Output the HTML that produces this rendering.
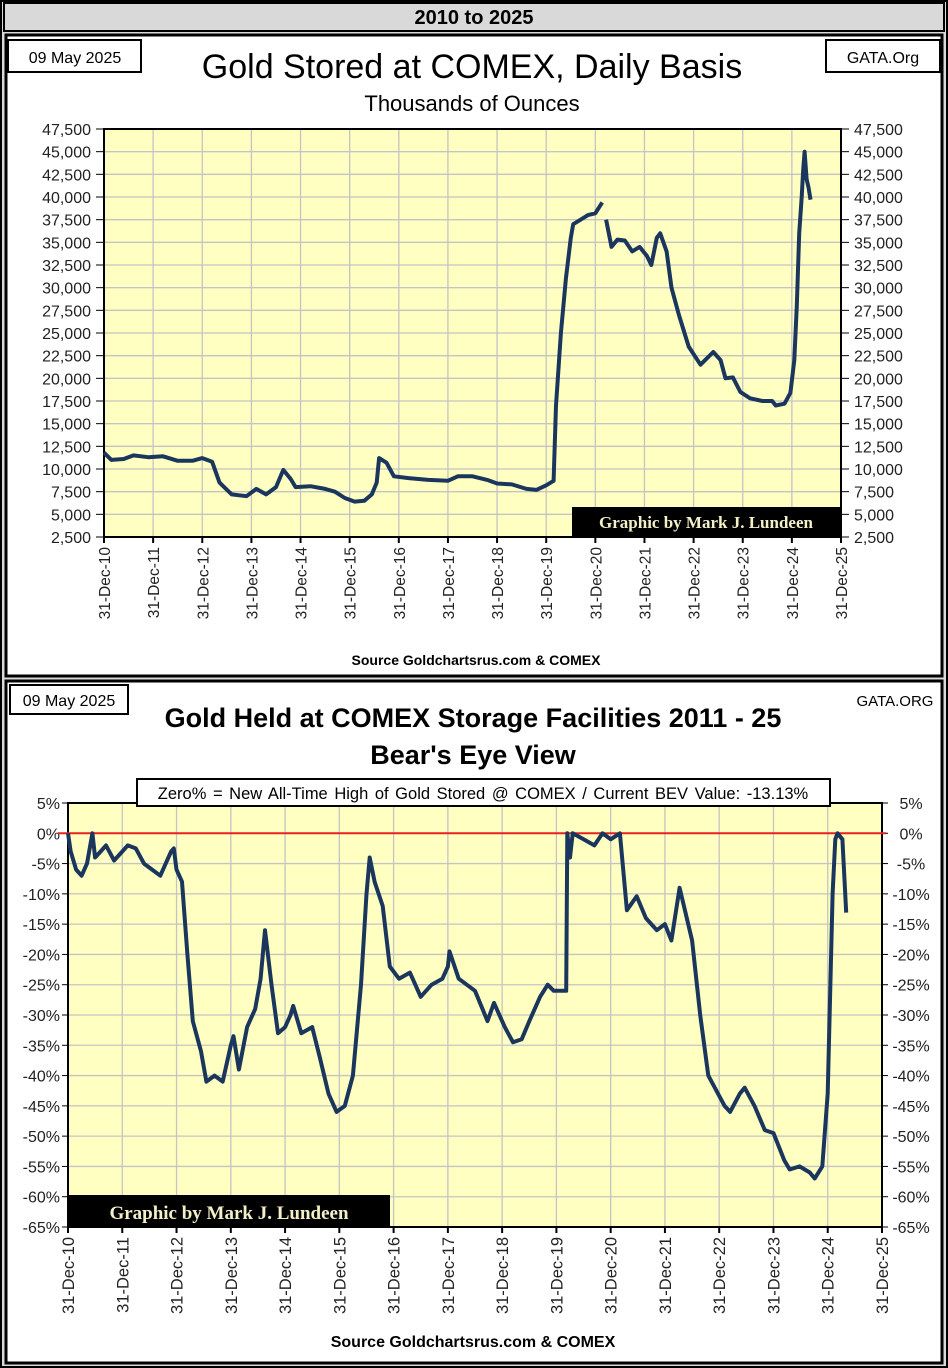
<!DOCTYPE html>
<html><head><meta charset="utf-8"><style>
body{margin:0;width:948px;height:1368px;background:#d9d9d9;font-family:"Liberation Sans",sans-serif;overflow:hidden}
svg{position:absolute;left:0;top:0}
</style></head><body>
<svg id="s" width="948" height="1368"></svg>
<script>
// Top chart data (years after 31-Dec-10, thousands of ounces)
const topYears=[0,0.15,0.4,0.6,0.9,1.2,1.5,1.8,2.0,2.2,2.35,2.6,2.9,3.1,3.3,3.5,3.65,3.8,3.9,4.2,4.5,4.7,4.9,5.1,5.3,5.45,5.55,5.6,5.75,5.9,6.2,6.6,7.0,7.2,7.5,7.8,8.0,8.3,8.6,8.8,9.0,9.15,9.2,9.3,9.4,9.5,9.55,9.7,9.85,10.0,10.14,10.22,10.33,10.45,10.6,10.75,10.9,11.05,11.14,11.25,11.32,11.45,11.55,11.7,11.9,12.14,12.4,12.55,12.65,12.8,12.95,13.15,13.4,13.6,13.67,13.85,13.97,14.05,14.1,14.15,14.2,14.23,14.26,14.3,14.34,14.38];
const topValues=[11800,11000,11100,11500,11300,11400,10900,10900,11200,10800,8500,7200,7000,7800,7200,8000,9900,8900,8000,8100,7800,7500,6800,6400,6500,7200,8500,11200,10700,9200,9000,8800,8700,9200,9200,8800,8400,8300,7800,7700,8200,8700,17000,25000,31000,35500,37000,37500,38000,38200,39400,37500,34500,35300,35200,34000,34500,33500,32500,35500,36000,34000,30000,27000,23500,21500,22900,22000,20000,20100,18500,17800,17500,17500,17000,17200,18400,22000,28000,36000,40000,43000,45000,42000,41000,39700];
const topTicks=[2500,5000,7500,10000,12500,15000,17500,20000,22500,25000,27500,30000,32500,35000,37500,40000,42500,45000,47500];
const xLabels=["31-Dec-10","31-Dec-11","31-Dec-12","31-Dec-13","31-Dec-14","31-Dec-15","31-Dec-16","31-Dec-17","31-Dec-18","31-Dec-19","31-Dec-20","31-Dec-21","31-Dec-22","31-Dec-23","31-Dec-24","31-Dec-25"];
// Bottom chart data (percent below all-time high)
const bevYears=[0,0.05,0.15,0.25,0.35,0.45,0.5,0.6,0.7,0.85,1.0,1.1,1.25,1.4,1.55,1.7,1.8,1.9,1.95,2.0,2.1,2.2,2.3,2.45,2.55,2.7,2.85,3.0,3.05,3.15,3.3,3.45,3.55,3.63,3.75,3.87,4.0,4.1,4.15,4.3,4.5,4.64,4.8,4.95,5.1,5.25,5.4,5.5,5.56,5.65,5.8,5.93,6.1,6.3,6.5,6.7,6.9,7.0,7.03,7.2,7.5,7.73,7.85,8.05,8.2,8.36,8.5,8.7,8.84,8.95,9.18,9.2,9.25,9.3,9.5,9.7,9.85,10.0,10.17,10.3,10.48,10.65,10.85,11.0,11.12,11.27,11.5,11.65,11.8,12.1,12.2,12.38,12.47,12.65,12.84,13.0,13.2,13.3,13.48,13.67,13.76,13.9,14.0,14.09,14.14,14.18,14.27,14.31,14.34];
const bevValues=[0,-3,-6,-7,-5,0,-4,-3,-2,-4.5,-3,-2,-2.5,-5,-6,-7,-5,-3,-2.5,-6,-8,-20,-31,-36,-41,-40,-41,-35,-33.5,-39,-32,-29,-24,-16,-25,-33,-32,-30,-28.5,-33,-32,-37,-43,-46,-45,-40,-25,-10,-4,-8,-12,-22,-24,-23,-27,-25,-24,-22,-19.5,-24,-26,-31,-28,-32,-34.5,-34,-31,-27,-25,-26,-26,0,-4,0,-1,-2,0,-1,0,-12.7,-10.4,-14,-16,-15,-17.7,-9,-17.7,-30,-40,-45,-46,-43,-42,-45,-49,-49.5,-54,-55.5,-55,-56,-57,-55,-43,-10,-1,0,-1,-8,-13.1];
const bevTicks=[5,0,-5,-10,-15,-20,-25,-30,-35,-40,-45,-50,-55,-60,-65];

const S=document.getElementById('s');const NS='http://www.w3.org/2000/svg';
function el(t,a,txt){const e=document.createElementNS(NS,t);for(const k in a)e.setAttribute(k,a[k]);if(txt!==undefined)e.textContent=txt;S.appendChild(e);return e;}
const fmt=v=>v.toLocaleString('en-US');
const LINE='#1b365d', BG='#ffffc2';

let e;
e=el('rect',{x:1,y:1,width:946,height:1366,fill:'#d9d9d9',stroke:'#000','stroke-width':2});
e=el('rect',{x:4,y:3,width:940,height:28,fill:'#d9d9d9',stroke:'#000','stroke-width':2});

e=el('text',{x:474,y:24,'text-anchor':'middle','font-size':20,'font-weight':'bold'},'2010 to 2025');

e=el('rect',{x:6,y:35,width:936,height:641,fill:'#fff',stroke:'#000','stroke-width':3});

e=el('rect',{x:6,y:681,width:936,height:682,fill:'#fff',stroke:'#000','stroke-width':3});


e=el('rect',{x:8,y:40,width:133,height:32,fill:'#fff',stroke:'#000','stroke-width':2});

el('text',{x:75,y:63,'text-anchor':'middle','font-size':16},'09 May 2025');
e=el('rect',{x:826,y:40,width:114,height:32,fill:'#fff',stroke:'#000','stroke-width':2});

el('text',{x:883,y:63,'text-anchor':'middle','font-size':16},'GATA.Org');
e=el('text',{x:472,y:78,'text-anchor':'middle','font-size':34},'Gold Stored at COMEX, Daily Basis');

e=el('text',{x:472,y:111,'text-anchor':'middle','font-size':22},'Thousands of Ounces');


const TL=104,TR=841,TT=129,TB=537;
const tx=y=>TL+(TR-TL)*y/15, ty=v=>TB-(TB-TT)*(v-2500)/45000;
e=el('rect',{x:TL,y:TT,width:TR-TL,height:TB-TT,fill:BG});

topTicks.forEach(v=>{const y=ty(v);
 el('line',{x1:TL,x2:TR,y1:y,y2:y,stroke:'#c4c4c4','stroke-width':1.3});
 el('line',{x1:TL-8,x2:TL,y1:y,y2:y,stroke:'#000'});el('line',{x1:TR,x2:TR+8,y1:y,y2:y,stroke:'#000'});
 e=el('text',{x:TL-13,y:y+6,'text-anchor':'end','font-size':16,fill:'#222'},fmt(v));
 
 e=el('text',{x:TR+13,y:y+6,'font-size':16,fill:'#222'},fmt(v));
 
});
xLabels.forEach((l,i)=>{const x=tx(i);
 el('line',{x1:x,x2:x,y1:TT,y2:TB,stroke:'#c4c4c4','stroke-width':1.3});
 el('line',{x1:x,x2:x,y1:TB,y2:TB+6,stroke:'#000','stroke-width':2});
 e=el('text',{x:0,y:0,'text-anchor':'end','font-size':15.5,fill:'#222',transform:`translate(${x+6},${TB+10}) rotate(-90)`},l);
 
});
el('rect',{x:TL,y:TT,width:TR-TL,height:TB-TT,fill:'none',stroke:'#000','stroke-width':2});
let p1='',p2='';
topYears.forEach((y,i)=>{const s=`${tx(y).toFixed(1)},${ty(topValues[i]).toFixed(1)} `;if(y<=10.15)p1+=s;else p2+=s;});
e=el('polyline',{points:p1,fill:'none',stroke:LINE,'stroke-width':4,'stroke-linejoin':'round'});

e=el('polyline',{points:p2,fill:'none',stroke:LINE,'stroke-width':4,'stroke-linejoin':'round'});

e=el('rect',{x:572,y:507,width:TR-572,height:30,fill:'#000'});

el('text',{x:706,y:528,'text-anchor':'middle','font-size':17,'font-weight':'bold',fill:'#f3f0c8','font-family':'Liberation Serif, serif'},'Graphic by Mark J. Lundeen');
e=el('text',{x:476,y:665,'text-anchor':'middle','font-size':14,'font-weight':'bold'},'Source  Goldchartsrus.com  & COMEX');


e=el('rect',{x:10,y:685,width:118,height:29,fill:'#fff',stroke:'#000','stroke-width':2});

el('text',{x:69,y:706,'text-anchor':'middle','font-size':16},'09 May 2025');
el('text',{x:895,y:706,'text-anchor':'middle','font-size':15},'GATA.ORG');
e=el('text',{x:473,y:727,'text-anchor':'middle','font-size':27,'font-weight':'bold'},"Gold Held at COMEX Storage Facilities 2011 - 25");

e=el('text',{x:473,y:764,'text-anchor':'middle','font-size':27,'font-weight':'bold'},"Bear's Eye View");


const BL=68,BR=882,BT=803,BB=1227;
const bx=y=>BL+(BR-BL)*y/15, by=v=>BT+(BB-BT)*(5-v)/70;
e=el('rect',{x:BL,y:BT,width:BR-BL,height:BB-BT,fill:BG});

bevTicks.forEach(v=>{const y=by(v);
 el('line',{x1:BL,x2:BR,y1:y,y2:y,stroke:'#c4c4c4','stroke-width':1.3});
 el('line',{x1:BL-6,x2:BL,y1:y,y2:y,stroke:'#000'});el('line',{x1:BR,x2:BR+6,y1:y,y2:y,stroke:'#000'});
 e=el('text',{x:BL-8,y:y+6,'text-anchor':'end','font-size':16,fill:'#222'},v+'%');
 
 e=el('text',{x:BR+29,y:y+6,'text-anchor':'middle','font-size':16,fill:'#222'},v+'%');
 
});
xLabels.forEach((l,i)=>{const x=bx(i);
 el('line',{x1:x,x2:x,y1:BT,y2:BB,stroke:'#c4c4c4','stroke-width':1.3});
 el('line',{x1:x,x2:x,y1:BB,y2:BB+6,stroke:'#000','stroke-width':2});
 e=el('text',{x:0,y:0,'text-anchor':'end','font-size':16.5,fill:'#222',transform:`translate(${x+6},${BB+10}) rotate(-90)`},l);
 
});
el('rect',{x:BL,y:BT,width:BR-BL,height:BB-BT,fill:'none',stroke:'#000','stroke-width':2});
e=el('line',{x1:58,x2:BR+4,y1:by(0),y2:by(0),stroke:'#e8211e','stroke-width':2});

let p3='';bevYears.forEach((y,i)=>{p3+=`${bx(y).toFixed(1)},${by(bevValues[i]).toFixed(1)} `;});
e=el('polyline',{points:p3,fill:'none',stroke:LINE,'stroke-width':4,'stroke-linejoin':'round'});

e=el('rect',{x:137,y:779,width:693,height:27,fill:'#fff',stroke:'#000','stroke-width':2});

el('text',{x:483,y:799,'text-anchor':'middle','font-size':16.5,'word-spacing':2},'Zero%  =  New All-Time High of Gold Stored @ COMEX  / Current  BEV Value: -13.13%');
e=el('rect',{x:BL,y:1195,width:322,height:32,fill:'#000'});

el('text',{x:229,y:1219,'text-anchor':'middle','font-size':19,'font-weight':'bold',fill:'#f3f0c8','font-family':'Liberation Serif, serif'},'Graphic by Mark J. Lundeen');
e=el('text',{x:473,y:1347,'text-anchor':'middle','font-size':16,'font-weight':'bold'},'Source  Goldchartsrus.com  & COMEX');

</script>
</body></html>
